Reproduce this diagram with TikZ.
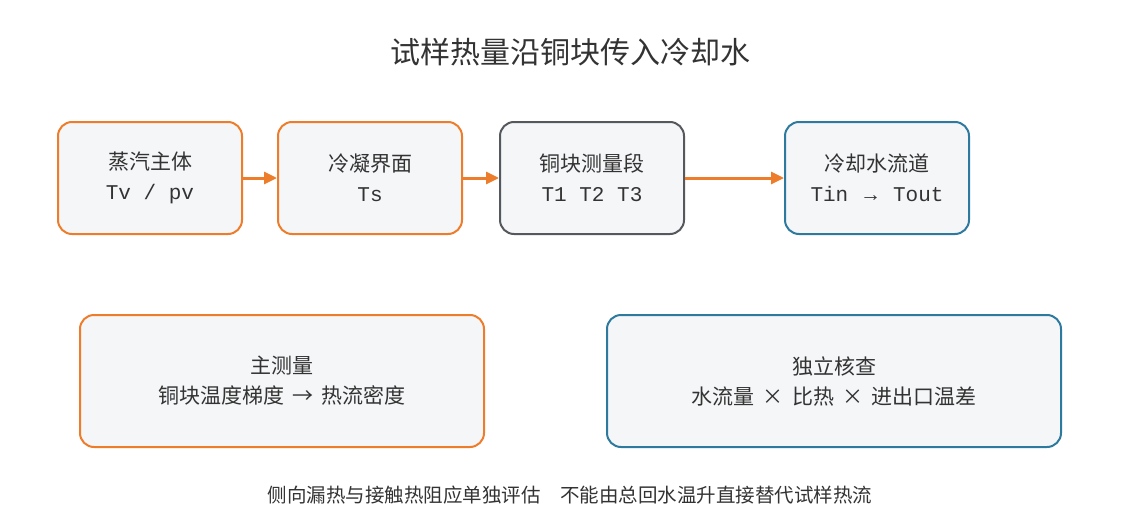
\documentclass[tikz,border=0pt]{standalone}
\usepackage{fontspec}
\setmainfont{Noto Sans CJK SC}
\newfontfamily\lat{Liberation Mono}
\usetikzlibrary{arrows.meta}
\definecolor{org}{HTML}{EE7D2B}
\definecolor{blu}{HTML}{2E7A9E}
\definecolor{gry}{HTML}{55595E}
\definecolor{fillc}{HTML}{F5F6F8}
\definecolor{txt}{HTML}{333333}
\begin{document}
\begin{tikzpicture}[x=1pt,y=-1pt,
  box/.style={draw=#1,line width=2pt,fill=fillc,rounded corners=14pt,inner sep=0pt,align=center,text=txt,font=\fontsize{21}{30}\selectfont},
  arr/.style={draw=org,line width=3pt,-{Triangle[length=13pt,width=12pt]}}]
\useasboundingbox (0,0) rectangle (1140,527);
\node[text=txt,font=\fontsize{30}{34}\selectfont] (title) at (570,52) {试样热量沿铜块传入冷却水};
\node[box=org,minimum width=184pt,minimum height=112pt] (a) at (150,178) {蒸汽主体\\{\lat Tv / pv}};
\node[box=org,minimum width=184pt,minimum height=112pt] (b) at (370,178) {冷凝界面\\{\lat Ts}};
\node[box=gry,minimum width=184pt,minimum height=112pt] (c) at (592,178) {铜块测量段\\{\lat T1 T2 T3}};
\node[box=blu,minimum width=184pt,minimum height=112pt] (d) at (877,178) {冷却水流道\\{\lat Tin \,→\, Tout}};
\draw[arr] (a) -- (b);
\draw[arr] (b) -- (c);
\draw[arr] (c) -- (d);
\node[box=org,minimum width=404pt,minimum height=132pt] (e) at (282,381) {主测量\\铜块温度梯度 \,→\, 热流密度};
\node[box=blu,minimum width=454pt,minimum height=132pt] (f) at (834,381) {独立核查\\水流量 \,×\, 比热 \,×\, 进出口温差};
\node[text=txt,font=\fontsize{19.5}{22}\selectfont] (foot) at (570,495) {侧向漏热与接触热阻应单独评估\quad 不能由总回水温升直接替代试样热流};
\end{tikzpicture}
\end{document}
